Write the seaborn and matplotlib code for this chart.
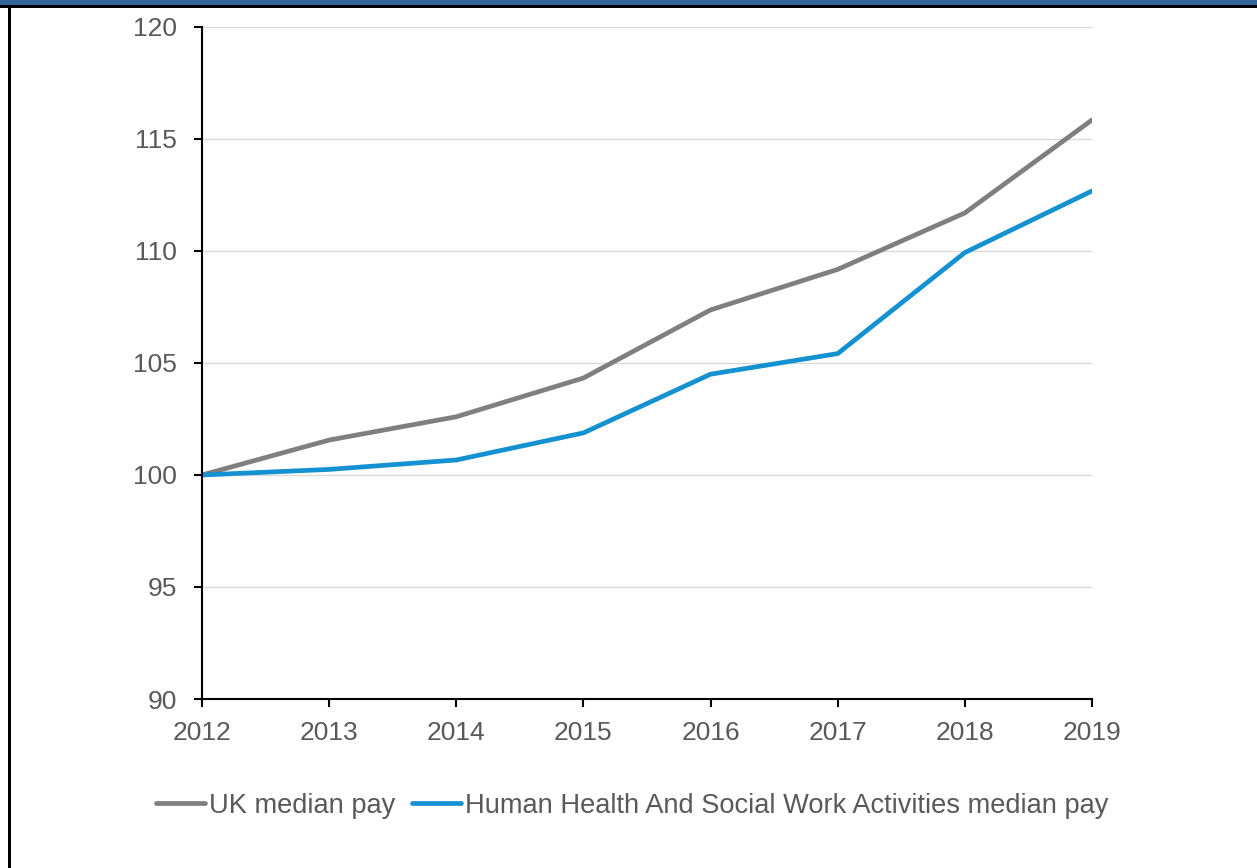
import matplotlib
matplotlib.use("Agg")
import matplotlib.pyplot as plt
from matplotlib.patches import Rectangle
import pandas as pd
import seaborn as sns

years = [2012, 2013, 2014, 2015, 2016, 2017, 2018, 2019]
uk_median = [100.0, 101.56, 102.6, 104.33, 107.37, 109.18, 111.7, 115.85]
health_median = [100.0, 100.25, 100.67, 101.88, 104.5, 105.42, 109.93, 112.68]
series_names = ["UK median pay", "Human Health And Social Work Activities median pay"]
series_colors = ["#7f7f7f", "#1391d0"]
y_ticks = [90, 95, 100, 105, 110, 115, 120]

df = pd.DataFrame({
    "year": years * 2,
    "index": uk_median + health_median,
    "series": [series_names[0]] * len(years) + [series_names[1]] * len(years),
})

sns.set_theme(style="white")
plt.rcParams["font.family"] = ["Liberation Sans", "DejaVu Sans"]

W, H = 1257, 868
fig = plt.figure(figsize=(W / 100, H / 100), dpi=100)
ax = fig.add_axes([202 / W, 1 - 699 / H, (1092 - 202) / W, (699 - 27) / H])

sns.lineplot(data=df, x="year", y="index", hue="series", hue_order=series_names,
             palette=series_colors, linewidth=3.4, ax=ax, legend=False)

ax.set_xlim(years[0], years[-1])
ax.set_ylim(y_ticks[0], y_ticks[-1])
ax.set_xticks(years)
ax.set_yticks(y_ticks)
ax.set_xlabel("")
ax.set_ylabel("")

for y in y_ticks[1:]:
    ax.axhline(y, color="#d9d9d9", linewidth=1.0, zorder=0)

for side in ["top", "right"]:
    ax.spines[side].set_visible(False)
for side in ["left", "bottom"]:
    ax.spines[side].set_color("black")
    ax.spines[side].set_linewidth(1.5)

ax.tick_params(axis="both", which="major", direction="out", length=6, width=1.5,
               color="black", labelsize=19, labelcolor="#595959")
ax.tick_params(axis="x", pad=10)
ax.tick_params(axis="y", pad=12)
ax.tick_params(left=True, bottom=True)

handles = [plt.Line2D([], [], color=c, linewidth=3.4) for c in series_colors]
fig.legend(handles, series_names, loc="center", bbox_to_anchor=(632 / W, 1 - 806 / H),
           ncol=2, frameon=False, fontsize=19.6, handlelength=1.8, handletextpad=0.15,
           columnspacing=0.6, labelcolor="#595959")

# page frame: blue header band, black rule beneath, black rule on the left
fig.patches.append(Rectangle((0, 1 - 5 / H), 1, 5 / H, transform=fig.transFigure,
                             facecolor="#33669a", edgecolor="none", zorder=10))
fig.patches.append(Rectangle((0, 1 - 8 / H), 1, 3 / H, transform=fig.transFigure,
                             facecolor="black", edgecolor="none", zorder=10))
fig.patches.append(Rectangle((8 / W, 0), 2.5 / W, 1 - 5 / H, transform=fig.transFigure,
                             facecolor="black", edgecolor="none", zorder=10))

fig.savefig("out.png", dpi=100)
